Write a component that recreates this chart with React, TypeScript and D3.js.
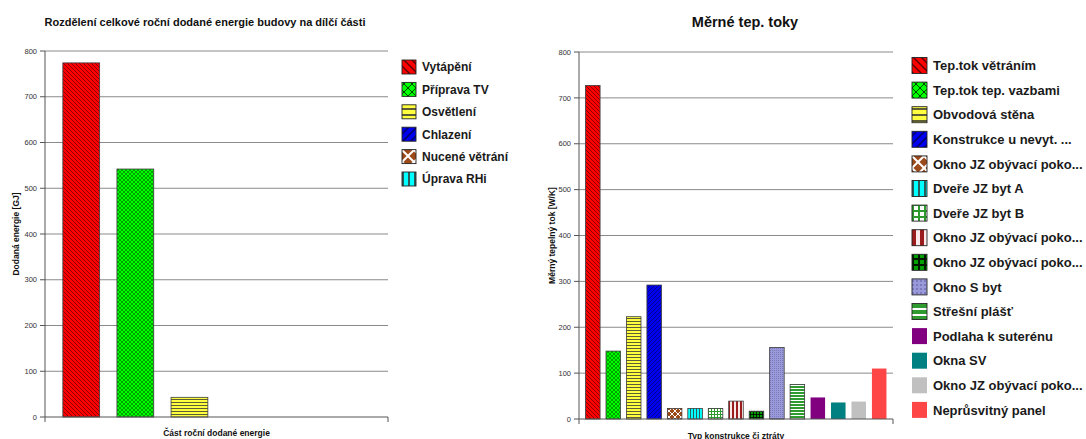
import React from "react";
import * as d3 from "d3";

const W = 1086;
const H = 439;
const FONT = "'Liberation Sans', Arial, Helvetica, sans-serif";

// Annual delivered energy by building part [GJ]
const energyParts = ["Vytápění", "Příprava TV", "Osvětlení", "Chlazení", "Nucené větrání", "Úprava RHi"];
const energyValues = [774, 542, 43, 0, 0, 0];
const energyTicks = [0, 100, 200, 300, 400, 500, 600, 700, 800];

// Specific heat flows by construction / loss type [W/K]
const flowTypes = [
  "Tep.tok větráním",
  "Tep.tok tep. vazbami",
  "Obvodová stěna",
  "Konstrukce u nevyt. ...",
  "Okno JZ obývací poko...",
  "Dveře JZ byt A",
  "Dveře JZ byt B",
  "Okno JZ obývací poko...",
  "Okno JZ obývací poko...",
  "Okno S byt",
  "Střešní plášť",
  "Podlaha k suterénu",
  "Okna SV",
  "Okno JZ obývací poko...",
  "Neprůsvitný panel",
];
const flowValues = [727, 148, 223, 292, 23, 23, 23, 39, 17, 156, 75, 47, 36, 38, 110];
const flowTicks = [0, 100, 200, 300, 400, 500, 600, 700, 800];

// Fill styles per series (pattern ids or plain colours)
const energyFills = ["redDiag", "greenCross", "yellowHoriz", "blueDiag", "brownLattice", "cyanVert"];
const flowFills = [
  "redDiag", "greenCross", "yellowHoriz", "blueDiag", "brownLattice", "cyanVert",
  "greenGrid", "redStripes", "darkGreenGrid", "lavenderDots", "greenHorizWhite",
  "#800080", "#008080", "#c0c0c0", "#ff4646",
];

type PatternDef = { id: string; size: number; body: React.ReactNode };

const patternDefs: PatternDef[] = [
  {
    id: "redDiag",
    size: 4,
    body: (
      <>
        <rect width={4} height={4} fill="#ff0000" />
        <path d="M-1,-1L5,5M-1,3L1,5M3,-1L5,1" stroke="#5a0000" strokeWidth={0.7} />
      </>
    ),
  },
  {
    id: "greenCross",
    size: 4,
    body: (
      <>
        <rect width={4} height={4} fill="#00ff00" />
        <path d="M0,0L4,4M4,0L0,4" stroke="#004400" strokeWidth={0.5} />
      </>
    ),
  },
  {
    id: "yellowHoriz",
    size: 3,
    body: (
      <>
        <rect width={3} height={3} fill="#ffff40" />
        <path d="M0,0.5H3" stroke="#333" strokeWidth={0.8} />
      </>
    ),
  },
  {
    id: "blueDiag",
    size: 4,
    body: (
      <>
        <rect width={4} height={4} fill="#0000f0" />
        <path d="M-1,5L5,-1M-1,1L1,-1M3,5L5,3" stroke="#000070" strokeWidth={0.8} />
      </>
    ),
  },
  {
    id: "brownLattice",
    size: 6,
    body: (
      <>
        <rect width={6} height={6} fill="#9c4a1a" />
        <path d="M0,0L6,6M6,0L0,6" stroke="#ffffff" strokeWidth={1} />
      </>
    ),
  },
  {
    id: "cyanVert",
    size: 3,
    body: (
      <>
        <rect width={3} height={3} fill="#00ffff" />
        <path d="M0.5,0V3" stroke="#333" strokeWidth={0.8} />
      </>
    ),
  },
  {
    id: "greenGrid",
    size: 3,
    body: (
      <>
        <rect width={3} height={3} fill="#ffffff" />
        <path d="M0,0.5H3M0.5,0V3" stroke="#2e9a2e" strokeWidth={1} />
      </>
    ),
  },
  {
    id: "redStripes",
    size: 4,
    body: (
      <>
        <rect width={4} height={4} fill="#fbeaea" />
        <rect width={2} height={4} fill="#9a1c1c" />
      </>
    ),
  },
  {
    id: "darkGreenGrid",
    size: 3,
    body: (
      <>
        <rect width={3} height={3} fill="#00a000" />
        <path d="M0,0.5H3M0.5,0V3" stroke="#001800" strokeWidth={1} />
      </>
    ),
  },
  {
    id: "lavenderDots",
    size: 2,
    body: (
      <>
        <rect width={2} height={2} fill="#9a9ada" />
        <rect width={1} height={1} fill="#7a7abc" />
      </>
    ),
  },
  {
    id: "greenHorizWhite",
    size: 3,
    body: (
      <>
        <rect width={3} height={3} fill="#2f9a2f" />
        <path d="M0,1.5H3" stroke="#ffffff" strokeWidth={1} />
      </>
    ),
  },
];

const isPattern = (f: string) => !f.startsWith("#");
const fillOf = (f: string, scale: string) => (isPattern(f) ? `url(#${f}-${scale})` : f);

function Patterns() {
  const scales: [string, number][] = [
    ["bar", 1],
    ["leg", 2],
  ];
  return (
    <defs>
      {scales.map(([name, k]) =>
        patternDefs.map((p) => (
          <pattern
            key={`${p.id}-${name}`}
            id={`${p.id}-${name}`}
            width={p.size}
            height={p.size}
            patternUnits="userSpaceOnUse"
            patternTransform={`scale(${k})`}
          >
            {p.body}
          </pattern>
        ))
      )}
    </defs>
  );
}

type PanelProps = {
  left: number;
  right: number;
  top: number;
  bottom: number;
  names: string[];
  values: number[];
  fills: string[];
  ticks: number[];
  yTitle: string;
  yTitleX: number;
  xTitle: string;
  xTitleY: number;
  padInner: number;
  padOuter: number;
};

function BarPanel(p: PanelProps) {
  const y = d3.scaleLinear().domain([0, 800]).range([p.bottom, p.top]);
  const x = d3
    .scaleBand<string>()
    .domain(p.names.map((_, i) => String(i)))
    .range([p.left, p.right])
    .paddingInner(p.padInner)
    .paddingOuter(p.padOuter);
  const midY = (p.top + p.bottom) / 2;
  return (
    <g>
      {p.ticks.map((t) => (
        <g key={t}>
          {t > 0 && (
            <line x1={p.left} x2={p.right} y1={y(t)} y2={y(t)} stroke="#8a8a8a" strokeWidth={1} />
          )}
          <line x1={p.left - 5} x2={p.left} y1={y(t)} y2={y(t)} stroke="#555" strokeWidth={1} />
          <text
            x={p.left - 8}
            y={y(t)}
            dy="0.35em"
            textAnchor="end"
            fontSize={7.5}
            fill="#333"
            fontFamily={FONT}
          >
            {t}
          </text>
        </g>
      ))}
      {p.values.map((v, i) => {
        const f = p.fills[i];
        const h = p.bottom - y(v);
        if (h <= 0) return null;
        return (
          <rect
            key={i}
            x={x(String(i))}
            y={y(v)}
            width={x.bandwidth()}
            height={h}
            fill={fillOf(f, "bar")}
            stroke={isPattern(f) ? "#3a3a3a" : "none"}
            strokeWidth={0.8}
          />
        );
      })}
      <line x1={p.left} x2={p.left} y1={p.top} y2={p.bottom + 5} stroke="#555" strokeWidth={1} />
      <line x1={p.left} x2={p.right} y1={p.bottom} y2={p.bottom} stroke="#555" strokeWidth={1} />
      <line x1={p.right} x2={p.right} y1={p.bottom} y2={p.bottom + 5} stroke="#555" strokeWidth={1} />
      <text
        transform={`translate(${p.yTitleX},${midY}) rotate(-90)`}
        textAnchor="middle"
        fontSize={8.5}
        fontWeight="bold"
        fill="#111"
        fontFamily={FONT}
      >
        {p.yTitle}
      </text>
      <text
        x={(p.left + p.right) / 2}
        y={p.xTitleY}
        textAnchor="middle"
        fontSize={8.5}
        fontWeight="bold"
        fill="#111"
        fontFamily={FONT}
      >
        {p.xTitle}
      </text>
    </g>
  );
}

type LegendProps = {
  x: number;
  y0: number;
  step: number;
  box: [number, number];
  textX: number;
  fontSize: number;
  names: string[];
  fills: string[];
};

function Legend(p: LegendProps) {
  return (
    <g>
      {p.names.map((n, i) => {
        const cy = p.y0 + i * p.step;
        const f = p.fills[i];
        return (
          <g key={i}>
            <rect
              x={p.x}
              y={cy - p.box[1] / 2}
              width={p.box[0]}
              height={p.box[1]}
              fill={fillOf(f, "leg")}
              stroke={isPattern(f) ? "#222" : "none"}
              strokeWidth={0.9}
            />
            <text
              x={p.textX}
              y={cy}
              dy="0.36em"
              fontSize={p.fontSize}
              fontWeight="bold"
              fill="#1a1a1a"
              fontFamily={FONT}
            >
              {n}
            </text>
          </g>
        );
      })}
    </g>
  );
}

export default function App() {
  return (
    <svg
      width={W}
      height={H}
      viewBox={`0 0 ${W} ${H}`}
      style={{ position: "absolute", left: 0, top: 0, background: "#fff" }}
    >
      <Patterns />
      <rect width={W} height={H} fill="#fff" />

      <text x={205} y={26} textAnchor="middle" fontSize={11} fontWeight="bold" fill="#111" fontFamily={FONT}>
        Rozdělení celkové roční dodané energie budovy na dílčí části
      </text>
      <BarPanel
        left={45}
        right={388}
        top={51}
        bottom={417}
        names={energyParts}
        values={energyValues}
        fills={energyFills}
        ticks={energyTicks}
        yTitle="Dodaná energie [GJ]"
        yTitleX={19}
        xTitle="Část roční dodané energie"
        xTitleY={436}
        padInner={0.32}
        padOuter={0.33}
      />
      <Legend
        x={402}
        y0={67}
        step={22.4}
        box={[14, 14]}
        textX={422}
        fontSize={12}
        names={energyParts}
        fills={energyFills}
      />

      <text x={745} y={27} textAnchor="middle" fontSize={14.5} fontWeight="bold" fill="#111" fontFamily={FONT}>
        Měrné tep. toky
      </text>
      <BarPanel
        left={579}
        right={893}
        top={52}
        bottom={419}
        names={flowTypes}
        values={flowValues}
        fills={flowFills}
        ticks={flowTicks}
        yTitle="Měrný tepelný tok [W/K]"
        yTitleX={555}
        xTitle="Typ konstrukce či ztráty"
        xTitleY={438.5}
        padInner={0.29}
        padOuter={0.32}
      />
      <Legend
        x={912}
        y0={65.5}
        step={24.6}
        box={[15, 16]}
        textX={933}
        fontSize={13}
        names={flowTypes}
        fills={flowFills}
      />
    </svg>
  );
}
